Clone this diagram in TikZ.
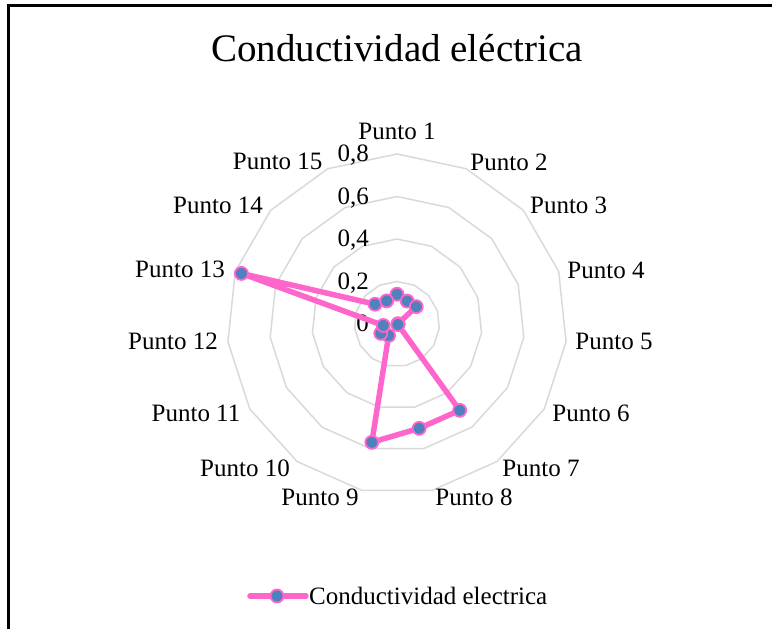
\documentclass[tikz,border=0pt]{standalone}
\usepackage{fontspec}
\setmainfont{Liberation Serif}
\usepackage{xcolor}
\definecolor{radarpink}{RGB}{255,102,204}
\definecolor{radarblue}{RGB}{79,129,189}
\definecolor{radargrid}{RGB}{217,217,217}
\tikzset{
  gridline/.style={draw=radargrid, line width=1.5pt},
  dataline/.style={draw=radarpink, line width=5.5pt, line join=round, line cap=round},
  datamark/.style={circle, fill=radarblue, draw=radarpink, line width=1.8pt, minimum size=13pt, inner sep=0pt},
  axislabel/.style={font=\fontsize{25}{30}\selectfont},
  ticklabel/.style={font=\fontsize{25}{30}\selectfont, anchor=base east, inner sep=0pt}
}

\begin{document}
\begin{tikzpicture}[x=1pt,y=1pt]
\useasboundingbox (-397,-305) rectangle (375,324);
\draw[line width=2.5pt] (-388.5,-305) -- (-388.5,318.7) -- (375,318.7);
\node[font=\fontsize{39}{46}\selectfont, anchor=base] (title) at (0,262) {Conductividad eléctrica};

\foreach \j in {1,...,4}
  \draw[gridline] (90:{42.5*\j}) \foreach \k in {1,...,14} { -- ({90-\k*24}:{42.5*\j}) } -- cycle;

\foreach \j/\t in {0/0,1/{0,2},2/{0,4},3/{0,6},4/{0,8}}
  \node[ticklabel] (tick\j) at (-28,{42.5*\j-8}) {\t};

\foreach \k/\x/\y in {1/0/192.3,2/112/162,3/171.7/119,4/209/54,5/217/-17.7,6/194/-89.3,7/144/-144.3,8/77/-173,
  9/-77/-173,10/-152/-144.3,11/-201/-89.3,12/-224/-17.7,13/-217/54.7,14/-179/119,15/-119.3/162.3}
  \node[axislabel] (lab\k) at (\x,\y) {Punto \k};

\foreach \k/\v in {1/0.14,2/0.118,3/0.122,4/0.005,5/0.005,6/0.005,7/0.502,8/0.502,
  9/0.569,10/0.067,11/0.088,12/0.065,13/0.77,14/0.139,15/0.119}
  \coordinate (d\k) at ({90-(\k-1)*24}:{\v*212.5});
\draw[dataline] (d1) -- (d2) -- (d3) -- (d4) -- (d5) -- (d6) -- (d7) -- (d8) -- (d9) -- (d10)
  -- (d11) -- (d12) -- (d13) -- (d14) -- (d15) -- cycle;
\foreach \k in {1,...,15}
  \node[datamark] (m\k) at (d\k) {};

\coordinate (legA) at (-147,-272);
\coordinate (legB) at (-91,-272);
\draw[dataline] (legA) -- (legB);
\node[datamark] (legmark) at (-120,-272) {};
\node[axislabel, anchor=west, inner sep=0pt] (legtext) at (-88,-272) {Conductividad electrica};
\end{tikzpicture}
\end{document}
